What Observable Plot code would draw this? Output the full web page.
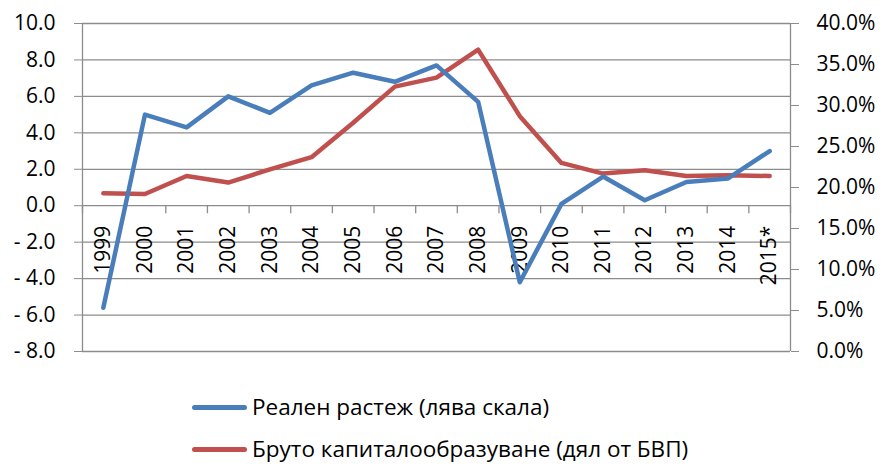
<!DOCTYPE html>
<html>
<head>
<meta charset="utf-8">
<script src="https://cdn.jsdelivr.net/npm/d3@7"></script>
<script src="https://cdn.jsdelivr.net/npm/@observablehq/plot@0.6"></script>
<style>
  body { margin: 0; background: #fff; font-family: "Open Sans", sans-serif; }
  #chart { width: 883px; }
  .legend { position: relative; height: 100px; }
  .item { position: absolute; left: 192px; height: 24px; line-height: 24px; display: flex; align-items: center; font-size: 22.5px; color: #000; white-space: nowrap; }
  .sw { width: 55px; height: 5px; border-radius: 3px; margin-right: 5px; }
</style>
</head>
<body>
<div id="chart"></div>
<script>
const years = ["1999","2000","2001","2002","2003","2004","2005","2006","2007","2008","2009","2010","2011","2012","2013","2014","2015*"];
const growth = [-5.6, 5.0, 4.3, 6.0, 5.1, 6.6, 7.3, 6.8, 7.7, 5.7, -4.2, 0.1, 1.6, 0.3, 1.3, 1.5, 3.0];
const capital = [19.3, 19.2, 21.4, 20.6, 22.2, 23.7, 27.9, 32.3, 33.4, 36.8, 28.7, 23.0, 21.7, 22.1, 21.4, 21.5, 21.4];
const leftTicks = [-8, -6, -4, -2, 0, 2, 4, 6, 8, 10];
const rightTicks = [0, 5, 10, 15, 20, 25, 30, 35, 40];
const seriesNames = ["Реален растеж (лява скала)", "Бруто капиталообразуване (дял от БВП)"];
const colors = ["#4a7ebb", "#c0504d"];

// map right-axis percent to left-axis units
const yMin = -8, yMax = 10, pMin = 0, pMax = 40;
const toLeft = p => yMin + (p - pMin) * (yMax - yMin) / (pMax - pMin);
const toPct = v => pMin + (v - yMin) * (pMax - pMin) / (yMax - yMin);

const bounds = d3.range(years.length + 1).map(i => i - 0.5);
const grid = "#8c8c8c";
const fs = 21;

const fmtLeft = d => d < 0 ? "- " + Math.abs(d).toFixed(1) : d.toFixed(1);

const chart = Plot.plot({
  width: 883,
  height: 365,
  marginLeft: 82,
  marginRight: 93,
  marginTop: 23,
  marginBottom: 14,
  style: { fontFamily: "Open Sans, sans-serif", fontSize: fs + "px", color: "#000", background: "#fff" },
  x: { type: "linear", domain: [-0.5, years.length - 0.5], axis: null },
  y: { domain: [yMin, yMax], axis: null },
  marks: [
    Plot.ruleY(leftTicks, { stroke: grid, strokeWidth: 1.3 }),
    Plot.ruleX([bounds[0], bounds[bounds.length - 1]], { stroke: grid, strokeWidth: 1.3 }),
    Plot.ruleX(bounds, { y1: 0, y2: 0, insetBottom: -8, stroke: grid, strokeWidth: 1.3 }),
    Plot.axisY({ anchor: "left", ticks: leftTicks, tickSize: 8, tickPadding: 19, tickFormat: fmtLeft, stroke: grid, fontSize: fs, label: null }),
    Plot.axisY({ anchor: "right", ticks: rightTicks.map(toLeft), tickSize: 8, tickPadding: 18, tickFormat: d => toPct(d).toFixed(1) + "%", stroke: grid, fontSize: fs, label: null }),
    Plot.text(years, { x: (d, i) => i, y: () => 0, text: d => d, rotate: -90, textAnchor: "end", dy: 20, fontSize: fs, fill: "#000" }),
    Plot.line(capital, { x: (d, i) => i, y: d => toLeft(d), stroke: colors[1], strokeWidth: 4.5, strokeLinejoin: "round", strokeLinecap: "round" }),
    Plot.line(growth, { x: (d, i) => i, y: d => d, stroke: colors[0], strokeWidth: 4.5, strokeLinejoin: "round", strokeLinecap: "round" })
  ]
});
document.getElementById("chart").appendChild(chart);

const legend = document.createElement("div");
legend.className = "legend";
seriesNames.forEach((name, i) => {
  const item = document.createElement("div");
  item.className = "item";
  item.style.top = (i === 0 ? 30 : 72) + "px";
  const sw = document.createElement("span");
  sw.className = "sw";
  sw.style.background = colors[i];
  const t = document.createElement("span");
  t.textContent = name;
  item.appendChild(sw);
  item.appendChild(t);
  legend.appendChild(item);
});
document.getElementById("chart").appendChild(legend);
</script>
</body>
</html>
